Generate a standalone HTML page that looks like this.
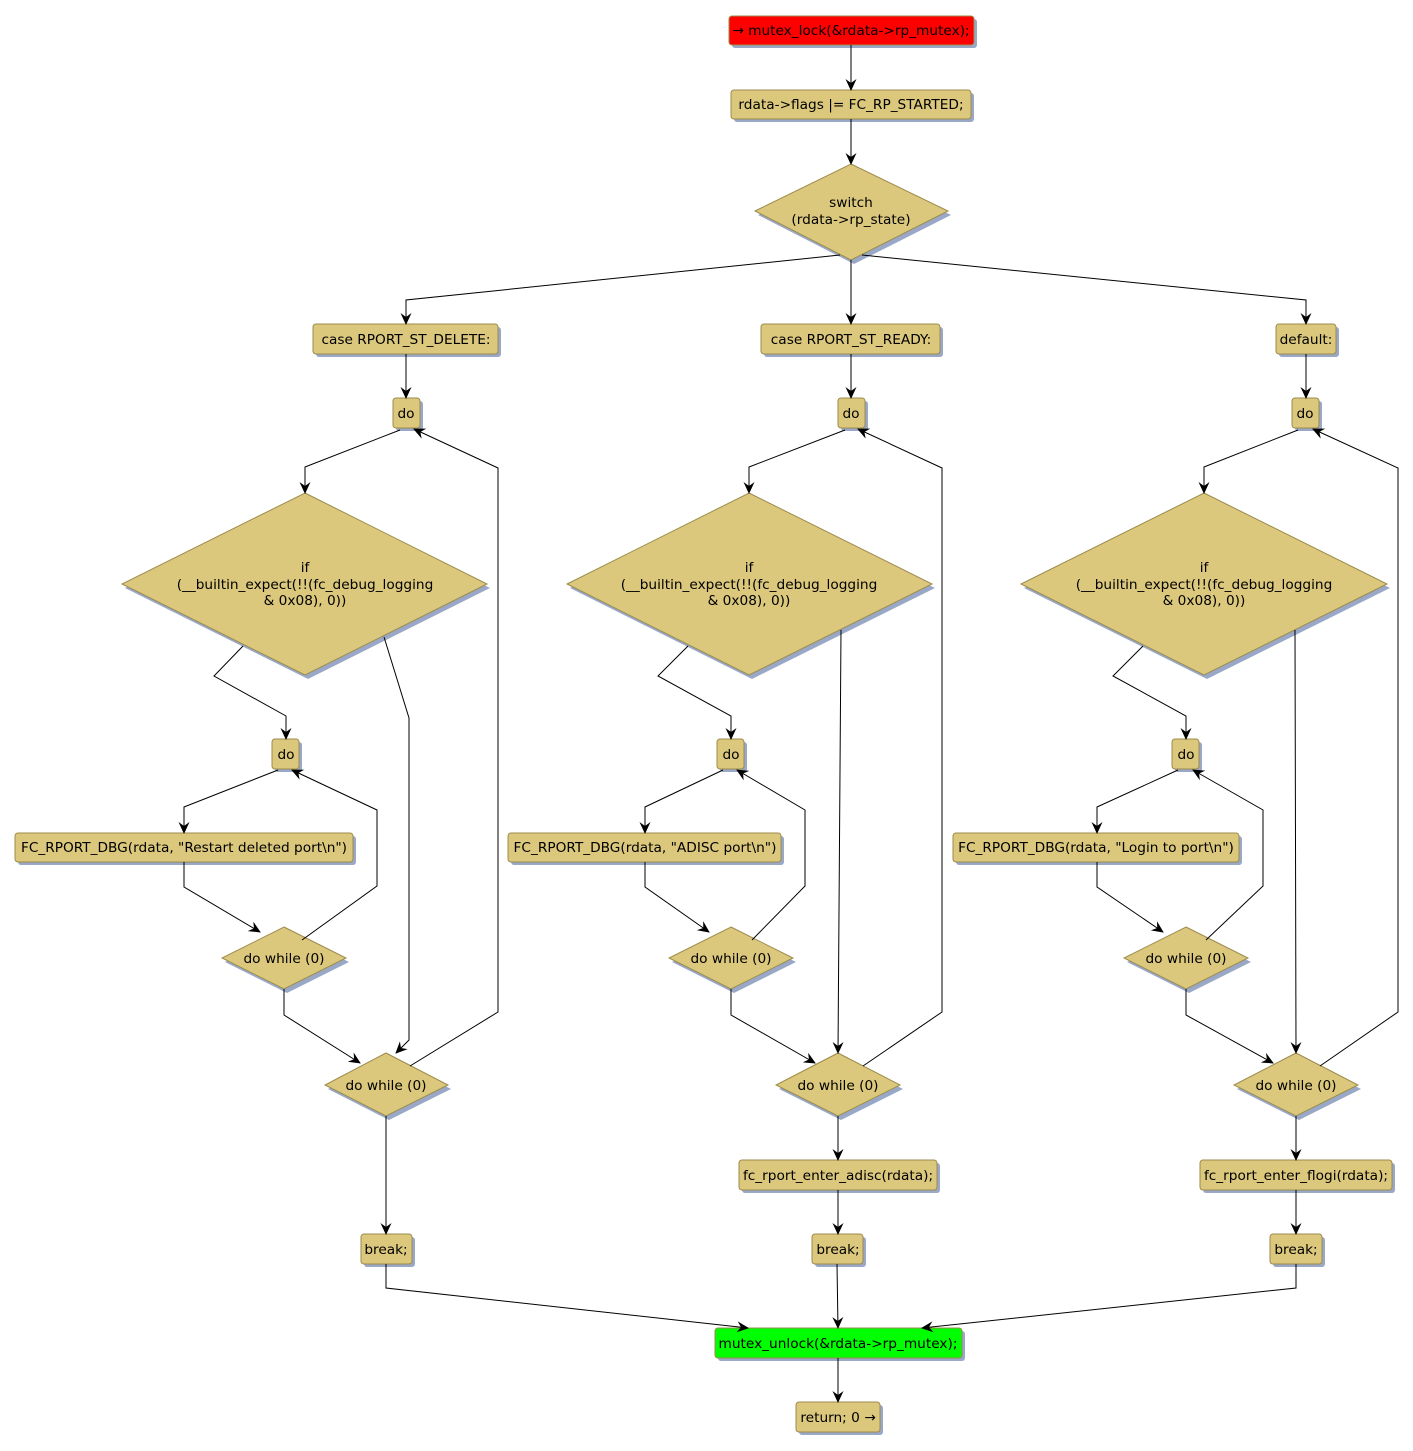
<!DOCTYPE html>
<html><head><meta charset="utf-8"><style>
html,body{margin:0;padding:0;background:#fff}
svg{display:block}
text{font-family:"DejaVu Sans","Liberation Sans",sans-serif;font-size:13.7px;fill:#000;text-anchor:middle}
.n{fill:#dbc87c;stroke:#9c8b4c;stroke-width:1}
.s{fill:#9aa8c8}
.e{fill:none;stroke:#000;stroke-width:1}
</style></head><body>
<svg width="1413" height="1451" viewBox="0 0 1413 1451" xmlns="http://www.w3.org/2000/svg">
<defs><marker id="a" markerWidth="12" markerHeight="12" refX="11" refY="6" orient="auto" markerUnits="userSpaceOnUse"><path d="M0,0.5 L12,6 L0,11.5 L4,6 z" fill="#000"/></marker></defs>
<g id="shapes">
<rect class="s" x="732" y="19" width="245" height="29" rx="3"/><rect x="729" y="16" width="245" height="29" rx="3" fill="#ff0000" stroke="#9c8b4c"/>
<text x="851" y="35">→ mutex_lock(&amp;rdata-&gt;rp_mutex);</text>
<rect class="s" x="734" y="93" width="240" height="29" rx="3"/><rect class="n" x="731" y="90" width="240" height="29" rx="3"/>
<text x="851" y="109">rdata-&gt;flags |= FC_RP_STARTED;</text>
<polygon class="s" points="854,168 951,215 854,264 758,215"/><polygon class="n" points="851,164 948,211 851,260 755,211"/>
<text x="851" y="207">switch</text><text x="851" y="224">(rdata-&gt;rp_state)</text>

<rect class="s" x="316" y="327" width="185" height="30" rx="3"/><rect class="n" x="313" y="324" width="185" height="30" rx="3"/><text x="406" y="344">case RPORT_ST_DELETE:</text>
<rect class="s" x="764" y="327" width="179" height="30" rx="3"/><rect class="n" x="761" y="324" width="179" height="30" rx="3"/><text x="851" y="344">case RPORT_ST_READY:</text>
<rect class="s" x="1279" y="327" width="60" height="30" rx="3"/><rect class="n" x="1276" y="324" width="60" height="30" rx="3"/><text x="1306" y="344">default:</text>

<rect class="s" x="396" y="401" width="27" height="30" rx="3"/><rect class="n" x="393" y="398" width="27" height="30" rx="3"/><text x="406" y="418">do</text>
<rect class="s" x="841" y="401" width="27" height="30" rx="3"/><rect class="n" x="838" y="398" width="27" height="30" rx="3"/><text x="851" y="418">do</text>
<rect class="s" x="1295" y="401" width="27" height="30" rx="3"/><rect class="n" x="1292" y="398" width="27" height="30" rx="3"/><text x="1305" y="418">do</text>

<polygon class="s" points="308,497 490,588 308,679 125,588"/><polygon class="n" points="305,493 487,584 305,675 122,584"/>
<text x="305" y="572">if</text><text x="305" y="589">(__builtin_expect(!!(fc_debug_logging</text><text x="305" y="605">&amp; 0x08), 0))</text>
<polygon class="s" points="752,497 935,588 752,679 570,588"/><polygon class="n" points="749,493 932,584 749,675 567,584"/>
<text x="749" y="572">if</text><text x="749" y="589">(__builtin_expect(!!(fc_debug_logging</text><text x="749" y="605">&amp; 0x08), 0))</text>
<polygon class="s" points="1207,497 1390,588 1207,679 1024,588"/><polygon class="n" points="1204,493 1387,584 1204,675 1021,584"/>
<text x="1204" y="572">if</text><text x="1204" y="589">(__builtin_expect(!!(fc_debug_logging</text><text x="1204" y="605">&amp; 0x08), 0))</text>

<rect class="s" x="275" y="742" width="27" height="30" rx="3"/><rect class="n" x="272" y="739" width="27" height="30" rx="3"/><text x="286" y="759">do</text>
<rect class="s" x="720" y="742" width="27" height="30" rx="3"/><rect class="n" x="717" y="739" width="27" height="30" rx="3"/><text x="731" y="759">do</text>
<rect class="s" x="1175" y="742" width="27" height="30" rx="3"/><rect class="n" x="1172" y="739" width="27" height="30" rx="3"/><text x="1186" y="759">do</text>

<rect class="s" x="18" y="836" width="338" height="29" rx="3"/><rect class="n" x="15" y="833" width="338" height="29" rx="3"/><text x="184" y="852">FC_RPORT_DBG(rdata, "Restart deleted port\n")</text>
<rect class="s" x="511" y="836" width="273" height="29" rx="3"/><rect class="n" x="508" y="833" width="273" height="29" rx="3"/><text x="645" y="852">FC_RPORT_DBG(rdata, "ADISC port\n")</text>
<rect class="s" x="956" y="836" width="286" height="29" rx="3"/><rect class="n" x="953" y="833" width="286" height="29" rx="3"/><text x="1096" y="852">FC_RPORT_DBG(rdata, "Login to port\n")</text>

<polygon class="s" points="287,931 349,962 287,993 225,962"/><polygon class="n" points="284,927 346,958 284,989 222,958"/><text x="284" y="963">do while (0)</text>
<polygon class="s" points="734,931 796,962 734,993 672,962"/><polygon class="n" points="731,927 793,958 731,989 669,958"/><text x="731" y="963">do while (0)</text>
<polygon class="s" points="1189,931 1251,962 1189,993 1127,962"/><polygon class="n" points="1186,927 1248,958 1186,989 1124,958"/><text x="1186" y="963">do while (0)</text>

<polygon class="s" points="389,1057 451,1089 389,1120 328,1089"/><polygon class="n" points="386,1053 448,1085 386,1116 325,1085"/><text x="386" y="1090">do while (0)</text>
<polygon class="s" points="841,1057 903,1089 841,1120 779,1089"/><polygon class="n" points="838,1053 900,1085 838,1116 776,1085"/><text x="838" y="1090">do while (0)</text>
<polygon class="s" points="1299,1057 1361,1089 1299,1120 1237,1089"/><polygon class="n" points="1296,1053 1358,1085 1296,1116 1234,1085"/><text x="1296" y="1090">do while (0)</text>

<rect class="s" x="742" y="1163" width="198" height="30" rx="3"/><rect class="n" x="739" y="1160" width="198" height="30" rx="3"/><text x="838" y="1180">fc_rport_enter_adisc(rdata);</text>
<rect class="s" x="1203" y="1163" width="192" height="30" rx="3"/><rect class="n" x="1200" y="1160" width="192" height="30" rx="3"/><text x="1296" y="1180">fc_rport_enter_flogi(rdata);</text>

<rect class="s" x="364" y="1237" width="51" height="30" rx="3"/><rect class="n" x="361" y="1234" width="51" height="30" rx="3"/><text x="386" y="1254">break;</text>
<rect class="s" x="815" y="1237" width="51" height="30" rx="3"/><rect class="n" x="812" y="1234" width="51" height="30" rx="3"/><text x="838" y="1254">break;</text>
<rect class="s" x="1273" y="1237" width="52" height="30" rx="3"/><rect class="n" x="1270" y="1234" width="52" height="30" rx="3"/><text x="1296" y="1254">break;</text>

<rect class="s" x="718" y="1331" width="247" height="30" rx="3"/><rect x="715" y="1328" width="247" height="30" rx="3" fill="#00ff00" stroke="#9c8b4c"/><text x="838" y="1348">mutex_unlock(&amp;rdata-&gt;rp_mutex);</text>
<rect class="s" x="799" y="1405" width="84" height="30" rx="3"/><rect class="n" x="796" y="1402" width="84" height="30" rx="3"/><text x="838" y="1422">return; 0 →</text>
</g>
<g marker-end="url(#a)">
<path class="e" d="M851,45 V90"/><path class="e" d="M851,119 V164"/>
<path class="e" d="M840,255 L406,300 V324"/><path class="e" d="M851,260 V324"/><path class="e" d="M862,255 L1306,300 V324"/>
<path class="e" d="M406,354 V398"/><path class="e" d="M851,354 V398"/><path class="e" d="M1306,354 V398"/>
<path class="e" d="M400,430 L305,467 V493"/>
<path class="e" d="M410,1066 L498,1012 V468 L414,429"/>
<path class="e" d="M243,646 L214,676 L286,716 V739"/>
<path class="e" d="M384,637 L409,718 V1040 L396,1053"/>
<path class="e" d="M278,770 L184,807 V833"/>
<path class="e" d="M302,940 L377,886 V810 L292,770"/>
<path class="e" d="M184,862 V887 L260,932"/>
<path class="e" d="M284,989 V1015 L360,1063"/>
<path class="e" d="M386,1116 V1234"/>
<path class="e" d="M386,1264 V1288 L748,1328"/>
<path class="e" d="M845,430 L749,467 V493"/>
<path class="e" d="M863,1066 L942,1012 V468 L858,429"/>
<path class="e" d="M688,646 L658,676 L731,716 V739"/>
<path class="e" d="M841,630 L838,1053"/>
<path class="e" d="M723,770 L645,807 V833"/>
<path class="e" d="M752,940 L805,886 V810 L737,770"/>
<path class="e" d="M645,862 V887 L709,932"/>
<path class="e" d="M731,989 V1015 L815,1063"/>
<path class="e" d="M838,1116 V1160"/><path class="e" d="M838,1190 V1234"/>
<path class="e" d="M837,1264 L838,1328"/>
<path class="e" d="M1298,430 L1204,467 V493"/>
<path class="e" d="M1320,1066 L1398,1012 V468 L1313,429"/>
<path class="e" d="M1143,646 L1113,676 L1186,716 V739"/>
<path class="e" d="M1295,630 L1296,1053"/>
<path class="e" d="M1178,770 L1097,807 V833"/>
<path class="e" d="M1206,940 L1263,886 V810 L1193,770"/>
<path class="e" d="M1097,862 V887 L1163,932"/>
<path class="e" d="M1186,989 V1015 L1273,1063"/>
<path class="e" d="M1296,1116 V1160"/><path class="e" d="M1296,1190 V1234"/>
<path class="e" d="M1296,1264 V1288 L922,1328"/>
<path class="e" d="M838,1358 V1402"/>
</g>
</svg>
</body></html>
